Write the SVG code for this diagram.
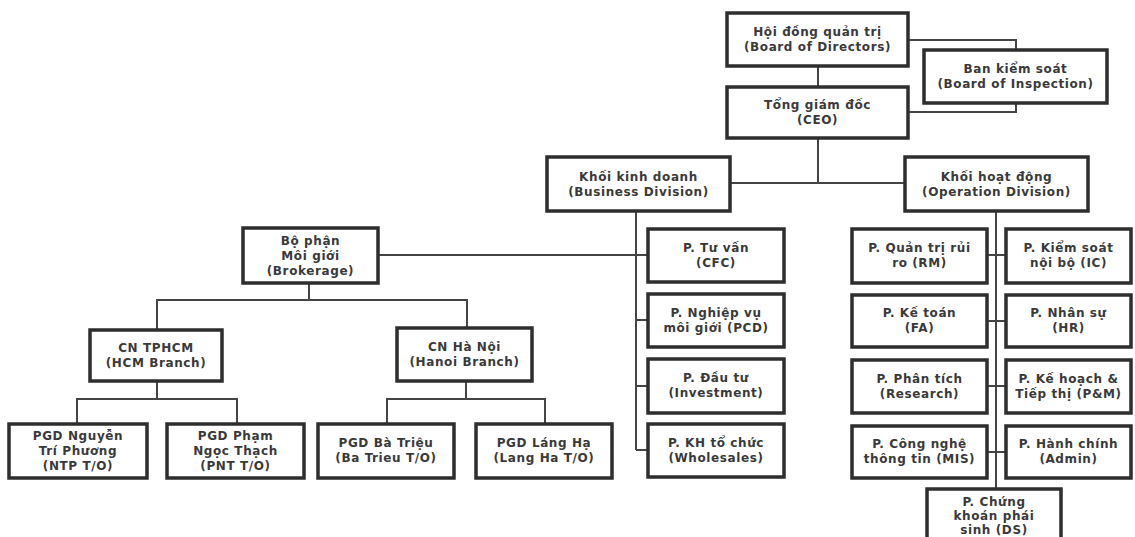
<svg xmlns="http://www.w3.org/2000/svg" width="1135" height="537" viewBox="0 0 1135 537">
<style>
.box{fill:#fff;stroke:#2e2e2e;stroke-width:3.5}
.t{font-family:"DejaVu Sans","Liberation Sans",sans-serif;font-size:12px;font-weight:bold;fill:#3a3a3a;text-anchor:middle;letter-spacing:0.6px}
.c{fill:none;stroke:#444;stroke-width:2}
</style>
<rect width="1135" height="537" fill="#fff"/>
<g id="connectors">
<path class="c" d="M818,66V87"/>
<path class="c" d="M908,40H1016V50"/>
<path class="c" d="M1016,103V112H908"/>
<path class="c" d="M818,138V183"/>
<path class="c" d="M730,183H905"/>
<path class="c" d="M636,211V450"/>
<path class="c" d="M378,255H648"/>
<path class="c" d="M636,320H648M636,386H648M636,450H648"/>
<path class="c" d="M309,283V300"/>
<path class="c" d="M157,330V300H467V328"/>
<path class="c" d="M157,381V399"/>
<path class="c" d="M77,424V399H237V424"/>
<path class="c" d="M466,381V399"/>
<path class="c" d="M387,424V399H545V424"/>
<path class="c" d="M996,211V489"/>
<path class="c" d="M987,255H1006M987,321H1006M987,386H1006M987,452H1006"/>
</g>
<g id="bod"><rect class="box" x="727" y="13" width="181" height="53"/><text class="t" x="817.5" y="36">Hội đồng quản trị</text><text class="t" x="817.5" y="51">(Board of Directors)</text></g>
<g id="boi"><rect class="box" x="924" y="50" width="183" height="53"/><text class="t" x="1015.5" y="73">Ban kiểm soát</text><text class="t" x="1015.5" y="88">(Board of Inspection)</text></g>
<g id="ceo"><rect class="box" x="727" y="87" width="181" height="51"/><text class="t" x="817.5" y="109">Tổng giám đốc</text><text class="t" x="817.5" y="124">(CEO)</text></g>
<g id="business"><rect class="box" x="547" y="157" width="183" height="54"/><text class="t" x="638.5" y="181">Khối kinh doanh</text><text class="t" x="638.5" y="196">(Business Division)</text></g>
<g id="operation"><rect class="box" x="905" y="157" width="183" height="54"/><text class="t" x="996.5" y="181">Khối hoạt động</text><text class="t" x="996.5" y="196">(Operation Division)</text></g>
<g id="brokerage"><rect class="box" x="243" y="228" width="135" height="55"/><text class="t" x="310.5" y="245">Bộ phận</text><text class="t" x="310.5" y="260">Môi giới</text><text class="t" x="310.5" y="275">(Brokerage)</text></g>
<g id="cfc"><rect class="box" x="648" y="229" width="136" height="53"/><text class="t" x="716" y="252">P. Tư vấn</text><text class="t" x="716" y="267">(CFC)</text></g>
<g id="pcd"><rect class="box" x="648" y="294" width="136" height="53"/><text class="t" x="716" y="317">P. Nghiệp vụ</text><text class="t" x="716" y="332">môi giới (PCD)</text></g>
<g id="investment"><rect class="box" x="648" y="359" width="136" height="54"/><text class="t" x="716" y="382">P. Đầu tư</text><text class="t" x="716" y="397">(Investment)</text></g>
<g id="wholesales"><rect class="box" x="648" y="424" width="136" height="53"/><text class="t" x="716" y="447">P. KH tổ chức</text><text class="t" x="716" y="462">(Wholesales)</text></g>
<g id="hcm"><rect class="box" x="90" y="330" width="132" height="51"/><text class="t" x="156" y="352">CN TPHCM</text><text class="t" x="156" y="367">(HCM Branch)</text></g>
<g id="hanoi"><rect class="box" x="397" y="328" width="135" height="53"/><text class="t" x="464.5" y="351">CN Hà Nội</text><text class="t" x="464.5" y="366">(Hanoi Branch)</text></g>
<g id="ntp"><rect class="box" x="9" y="424" width="138" height="54"/><text class="t" x="78" y="440">PGD Nguyễn</text><text class="t" x="78" y="455">Trí Phương</text><text class="t" x="78" y="470">(NTP T/O)</text></g>
<g id="pnt"><rect class="box" x="167" y="424" width="137" height="54"/><text class="t" x="235.5" y="440">PGD Phạm</text><text class="t" x="235.5" y="455">Ngọc Thạch</text><text class="t" x="235.5" y="470">(PNT T/O)</text></g>
<g id="batrieu"><rect class="box" x="318" y="424" width="136" height="54"/><text class="t" x="386" y="447">PGD Bà Triệu</text><text class="t" x="386" y="462">(Ba Trieu T/O)</text></g>
<g id="langha"><rect class="box" x="476" y="424" width="136" height="54"/><text class="t" x="544" y="447">PGD Láng Hạ</text><text class="t" x="544" y="462">(Lang Ha T/O)</text></g>
<g id="rm"><rect class="box" x="852" y="229" width="135" height="54"/><text class="t" x="919.5" y="252">P. Quản trị rủi</text><text class="t" x="919.5" y="267">ro (RM)</text></g>
<g id="ic"><rect class="box" x="1006" y="229" width="125" height="54"/><text class="t" x="1068.5" y="252">P. Kiểm soát</text><text class="t" x="1068.5" y="267">nội bộ (IC)</text></g>
<g id="fa"><rect class="box" x="852" y="295" width="135" height="52"/><text class="t" x="919.5" y="317">P. Kế toán</text><text class="t" x="919.5" y="332">(FA)</text></g>
<g id="hr"><rect class="box" x="1006" y="295" width="125" height="52"/><text class="t" x="1068.5" y="317">P. Nhân sự</text><text class="t" x="1068.5" y="332">(HR)</text></g>
<g id="research"><rect class="box" x="852" y="360" width="135" height="53"/><text class="t" x="919.5" y="383">P. Phân tích</text><text class="t" x="919.5" y="398">(Research)</text></g>
<g id="pm"><rect class="box" x="1006" y="360" width="125" height="53"/><text class="t" x="1068.5" y="383">P. Kế hoạch &amp;</text><text class="t" x="1068.5" y="398">Tiếp thị (P&amp;M)</text></g>
<g id="mis"><rect class="box" x="852" y="426" width="135" height="52"/><text class="t" x="919.5" y="448">P. Công nghệ</text><text class="t" x="919.5" y="463">thông tin (MIS)</text></g>
<g id="admin"><rect class="box" x="1006" y="426" width="125" height="52"/><text class="t" x="1068.5" y="448">P. Hành chính</text><text class="t" x="1068.5" y="463">(Admin)</text></g>
<g id="ds"><rect class="box" x="927" y="489" width="134" height="60"/><text class="t" x="994" y="506">P. Chứng</text><text class="t" x="994" y="520">khoán phái</text><text class="t" x="994" y="534">sinh (DS)</text></g>
</svg>
